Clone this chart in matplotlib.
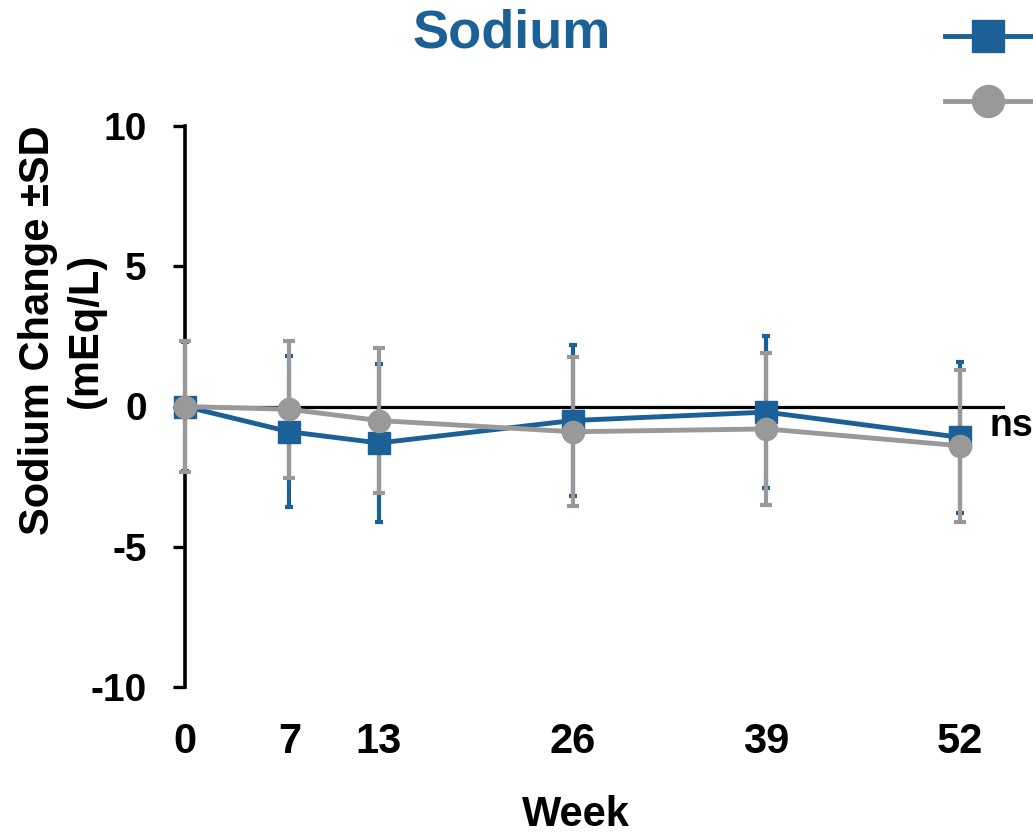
import matplotlib
matplotlib.use("Agg")
import matplotlib.pyplot as plt
from matplotlib.lines import Line2D

plt.rcParams['font.family'] = ['Liberation Sans', 'DejaVu Sans']
plt.rcParams['font.weight'] = 'bold'

# data
weeks = [0, 7, 13, 26, 39, 52]
week_labels = ["0", "7", "13", "26", "39", "52"]
blue_mean = [0.0, -0.9, -1.3, -0.5, -0.2, -1.1]
blue_sd = [2.3, 2.7, 2.8, 2.7, 2.7, 2.7]
gray_mean = [0.0, -0.1, -0.5, -0.9, -0.8, -1.4]
gray_sd = [2.35, 2.45, 2.6, 2.65, 2.7, 2.7]

BLUE = "#1b6096"
GRAY = "#999999"

fig = plt.figure(figsize=(10.33, 8.33), dpi=100)
ax = fig.add_axes([185 / 1033, 1 - 687 / 833, 820 / 1033, 561 / 833])

# error bars first, gray over blue
ax.errorbar(weeks, blue_mean, yerr=blue_sd, fmt="none", ecolor=BLUE,
            elinewidth=3, capsize=3, capthick=3, zorder=3, clip_on=False)
ax.errorbar(weeks, gray_mean, yerr=gray_sd, fmt="none", ecolor=GRAY,
            elinewidth=3, capsize=4.5, capthick=3, zorder=3.2, clip_on=False)

ax.plot(weeks, blue_mean, color=BLUE, lw=3.5, marker="s", ms=16,
        zorder=4, clip_on=False)
ax.plot(weeks, gray_mean, color=GRAY, lw=3.5, marker="o", ms=16,
        zorder=4.2, clip_on=False)

ax.axhline(0, color="black", lw=2.3, zorder=2)

ax.set_xlim(0, 55)
ax.set_ylim(-10, 10)
ax.set_yticks([-10, -5, 0, 5, 10])
ax.set_yticklabels(["-10", "-5", "0", "5", "10"])
ax.set_xticks(weeks)
ax.set_xticklabels(week_labels)

for s in ["top", "right", "bottom"]:
    ax.spines[s].set_visible(False)
ax.spines["left"].set_linewidth(2.6)
ax.tick_params(axis="y", length=8.5, width=2.4, pad=19, labelsize=28)
ax.tick_params(axis="x", length=0, pad=25, labelsize=30)

ax.set_xlabel("Week", fontsize=30, fontweight="bold")
ax.xaxis.set_label_coords(0.477, -0.192)
ax.set_ylabel("Sodium Change \u00b1SD\n(mEq/L)", fontsize=30,
              fontweight="bold", linespacing=1.25)
ax.yaxis.set_label_coords(-0.097, 0.636)

fig.text(512 / 1033, 1 - 47 / 833, "Sodium", color=BLUE, fontsize=39,
         fontweight="bold", ha="center", va="baseline")

ax.text(53.95, -0.7, "ns", fontsize=27, fontweight="bold", va="center",
        ha="left", clip_on=False)

handles = [
    Line2D([], [], color=BLUE, lw=3.5, marker="s", ms=23),
    Line2D([], [], color=GRAY, lw=3.5, marker="o", ms=23),
]
fig.legend(handles, [" ", " "], loc="upper left",
           bbox_to_anchor=(945 / 1033, 1 - 26 / 833), frameon=False,
           borderpad=0, borderaxespad=0, handlelength=3.1, handletextpad=0.5,
           labelspacing=1.4, fontsize=20)

fig.savefig("out.png", dpi=100)
